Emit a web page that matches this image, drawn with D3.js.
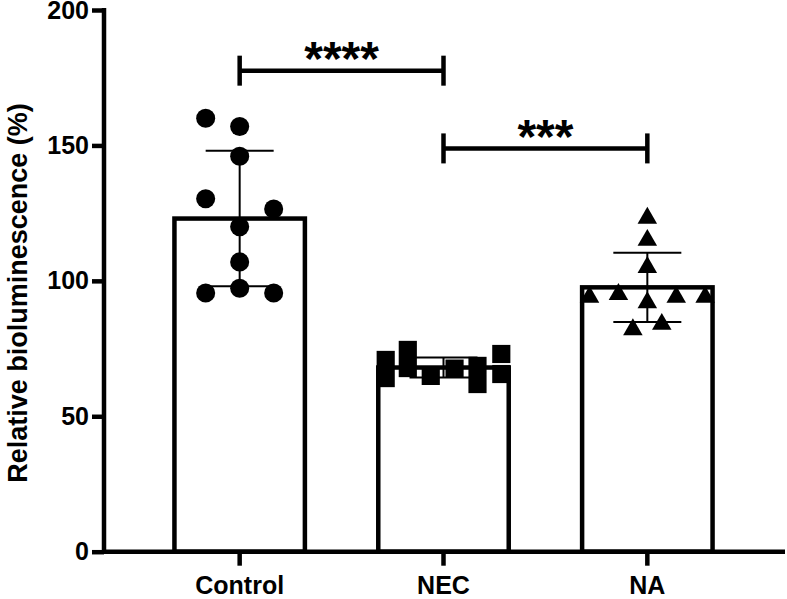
<!DOCTYPE html>
<html>
<head>
<meta charset="utf-8">
<script src="https://cdn.jsdelivr.net/npm/d3@7"></script>
<style>
  html, body { margin: 0; padding: 0; background: #fff; }
  svg { display: block; }
  text { font-family: "Liberation Sans", Arial, sans-serif; font-weight: bold; fill: #000; }
</style>
</head>
<body>
<svg id="chart" width="787" height="599"></svg>
<script>
// ---------- data ----------
const categories = ["Control", "NEC", "NA"];
const means = [123, 68, 97.6];
const sds = [25, 3.7, 12.8];
const yTicks = [0, 50, 100, 150, 200];
const yTitle = "Relative bioluminescence (%)";

// individual points (values) and their scatter column offsets (in marker units)
const controlValues = [160, 157, 146, 130.3, 126.5, 120, 107, 97.3, 95.5, 95.5];
const controlCols   = [-2, 0, 0, -2, 2, 0, 0, 0, -2, 2];
const necValues = [70.8, 64.1, 74.5, 67.8, 64.9, 67.6, 68.6, 61.9, 73, 65.6];
const necCols   = [-3.4, -3.4, -2.1, -2.1, -0.75, 0.65, 2, 2, 3.4, 3.4];
const naValues = [123.2, 115, 105, 94, 95, 92, 94, 94, 82, 84];
const naCols   = [0, 0, 0, -3.4, -1.7, 0, 1.7, 3.4, -0.85, 0.85];

const pointValues = [controlValues, necValues, naValues];
const pointCols = [controlCols, necCols, naCols];
const symbols = [d3.symbolCircle, d3.symbolSquare, d3.symbolTriangle];
const symbolSizes = [285, 330, 165];

// significance comparisons
const comparisons = [
  { from: "Control", to: "NEC", level: 177.6, label: "****" },
  { from: "NEC", to: "NA", level: 148.9, label: "***" }
];

// ---------- layout ----------
const svg = d3.select("#chart");
const axisX = 104, axisRight = 785;

const y = d3.scaleLinear().domain([0, 200]).range([551.7, 10]);
const x = d3.scaleBand().domain(categories)
  .range([137.75, 749.25]).paddingInner(0.36).paddingOuter(0.18);
const colUnit = d3.scaleLinear().domain([0, 1]).range([0, 17]);
const cx = c => x(c) + x.bandwidth() / 2;

// bars
svg.append("g").selectAll("rect").data(categories).join("rect")
  .attr("x", d => x(d))
  .attr("y", (d, i) => y(means[i]))
  .attr("width", x.bandwidth())
  .attr("height", (d, i) => y(0) - y(means[i]))
  .attr("fill", "#fff").attr("stroke", "#000").attr("stroke-width", 4.5);

// error bars
const eb = svg.append("g").attr("stroke", "#000").attr("stroke-width", 2);
categories.forEach((c, i) => {
  const hi = y(means[i] + sds[i]), lo = y(means[i] - sds[i]);
  eb.append("line").attr("x1", cx(c)).attr("x2", cx(c)).attr("y1", hi).attr("y2", lo);
  eb.append("line").attr("x1", cx(c) - 34).attr("x2", cx(c) + 34).attr("y1", hi).attr("y2", hi);
  eb.append("line").attr("x1", cx(c) - 34).attr("x2", cx(c) + 34).attr("y1", lo).attr("y2", lo);
});

// points
categories.forEach((c, i) => {
  const sym = d3.symbol().type(symbols[i]).size(symbolSizes[i]);
  svg.append("g").selectAll("path").data(pointValues[i]).join("path")
    .attr("d", sym)
    .attr("transform", (v, j) => `translate(${cx(c) + colUnit(pointCols[i][j])},${y(v)})`)
    .attr("fill", "#000");
});

// y axis
const yAxis = d3.axisLeft(y).tickValues(yTicks).tickSize(12).tickPadding(3).tickFormat(d3.format("d"));
const gy = svg.append("g").attr("transform", `translate(${axisX},0)`).call(yAxis);
gy.select(".domain").remove();
gy.selectAll(".tick line").attr("stroke", "#000").attr("stroke-width", 4.5);
gy.selectAll(".tick text").attr("font-size", 25).attr("font-family", "'Liberation Sans', Arial, sans-serif").attr("font-weight", "bold");
svg.append("line").attr("x1", axisX).attr("x2", axisX).attr("y1", y(200) - 2).attr("y2", y(0) + 2)
  .attr("stroke", "#000").attr("stroke-width", 4.5);

// x axis
const xAxis = d3.axisBottom(x).tickSize(14).tickPadding(11).tickSizeOuter(0);
const gx = svg.append("g").attr("transform", `translate(0,${y(0)})`).call(xAxis);
gx.select(".domain").remove();
gx.selectAll(".tick line").attr("stroke", "#000").attr("stroke-width", 4.5);
gx.selectAll(".tick text").attr("font-size", 25).attr("font-family", "'Liberation Sans', Arial, sans-serif").attr("font-weight", "bold");
svg.append("line").attr("x1", axisX - 2).attr("x2", axisRight).attr("y1", y(0)).attr("y2", y(0))
  .attr("stroke", "#000").attr("stroke-width", 4.5);

// y title
svg.append("text")
  .attr("transform", `translate(27,293) rotate(-90)`)
  .attr("text-anchor", "middle")
  .attr("font-size", 27)
  .text(yTitle);

// significance brackets
const sg = svg.append("g");
comparisons.forEach(cmp => {
  const x1 = cx(cmp.from), x2 = cx(cmp.to), yy = y(cmp.level);
  sg.append("line").attr("x1", x1).attr("x2", x2).attr("y1", yy).attr("y2", yy)
    .attr("stroke", "#000").attr("stroke-width", 4.5);
  [x1, x2].forEach(xx => sg.append("line").attr("x1", xx).attr("x2", xx)
    .attr("y1", yy - 15).attr("y2", yy + 15).attr("stroke", "#000").attr("stroke-width", 4.5));
  sg.append("text").attr("x", (x1 + x2) / 2).attr("y", yy + 4.5)
    .attr("text-anchor", "middle").attr("font-size", 48).text(cmp.label);
});
</script>
</body>
</html>
